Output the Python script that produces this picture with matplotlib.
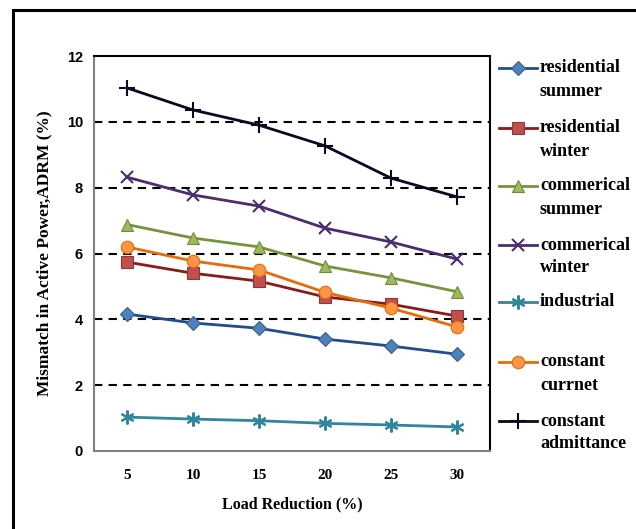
import matplotlib.pyplot as plt
from matplotlib.patches import Rectangle
from matplotlib.lines import Line2D

load_reduction = [5, 10, 15, 20, 25, 30]
x_tick_labels = ["5", "10", "15", "20", "25", "30"]

residential_summer = [4.16, 3.89, 3.73, 3.40, 3.19, 2.94]
residential_winter = [5.74, 5.40, 5.16, 4.68, 4.46, 4.10]
commerical_summer = [6.88, 6.47, 6.20, 5.62, 5.26, 4.84]
commerical_winter = [8.32, 7.78, 7.44, 6.77, 6.35, 5.83]
industrial = [1.03, 0.97, 0.92, 0.84, 0.79, 0.73]
constant_current = [6.20, 5.77, 5.50, 4.82, 4.34, 3.77]
constant_admittance = [11.03, 10.36, 9.90, 9.27, 8.29, 7.72]

plt.rcParams['font.family'] = ['Liberation Serif', 'DejaVu Serif']

W, H = 636, 529
fig = plt.figure(figsize=(W / 100, H / 100), dpi=100)
ax = fig.add_axes([94 / W, 78 / H, 396 / W, 395 / H])

# outer frame of the picture
fig.patches.append(Rectangle((13 / W, -0.1), 1.2, 1.1 - 10 / H,
                             transform=fig.transFigure, fill=False,
                             edgecolor='black', linewidth=2.2))

series = [
    ("residential", "summer", residential_summer, 'D', '#1F4E8C', '#4F81BD', '#385D8A', 7),
    ("residential", "winter", residential_winter, 's', '#8B1A1A', '#C0504D', '#8C3836', 8),
    ("commerical", "summer", commerical_summer, '^', '#77933C', '#9BBB59', '#71893F', 9),
    ("commerical", "winter", commerical_winter, 'x', '#4B2E6B', '#4B2E6B', '#4B2E6B', 9),
    ("industrial", "", industrial, (6, 2, 0), '#31859C', '#31859C', '#31859C', 10),
    ("constant", "currnet", constant_current, 'o', '#E46C0A', '#F79646', '#E46C0A', 9),
    ("constant", "admittance", constant_admittance, '+', '#0A0A1E', '#0A0A1E', '#0A0A1E', 11),
]
legend_rows = [68, 128, 186, 245, 302, 362, 421]

for (l1, l2, vals, mk, lc, fc, ec, ms), ry in zip(series, legend_rows):
    mew = 1.5 if mk in ('x', '+') or isinstance(mk, tuple) else 0.8
    ax.plot(load_reduction, vals, color=lc, linewidth=2, marker=mk,
            markersize=ms, markerfacecolor=fc, markeredgecolor=ec,
            markeredgewidth=mew)
    # legend entry drawn by hand so the marker sits on the first text line
    yf = 1 - ry / H
    fig.add_artist(Line2D([499 / W, 537 / W], [yf, yf], transform=fig.transFigure,
                          color=lc, linewidth=2))
    fig.add_artist(Line2D([518 / W], [yf], transform=fig.transFigure,
                          marker=mk, markersize=ms, markerfacecolor=fc,
                          markeredgecolor=ec, markeredgewidth=mew, linestyle='none'))
    fig.text(540 / W, yf, l1, fontweight='bold', fontsize=13, va='center', ha='left')
    if l2:
        fig.text(540 / W, 1 - (ry + 23) / H, l2, fontweight='bold', fontsize=13,
                 va='center', ha='left')

ax.set_xlim(2.5, 32.5)
ax.set_ylim(0, 12)
ax.set_yticks([0, 2, 4, 6, 8, 10, 12])
ax.set_yticklabels(["0", "2", "4", "6", "8", "10", "12"],
                   fontfamily='Liberation Sans', fontweight='bold', fontsize=10.5)
ax.set_xticks(load_reduction)
ax.set_xticklabels(x_tick_labels, fontweight='bold', fontsize=11)
ax.tick_params(axis='y', length=0, pad=8)
ax.tick_params(axis='x', length=0, pad=13)

for yv in [2, 4, 6, 8, 10]:
    ax.axhline(yv, color='black', linestyle=(0, (4, 3)), linewidth=1.5, zorder=0)

ax.spines['left'].set_color('#808080')
ax.spines['bottom'].set_color('#808080')
ax.spines['top'].set_color('black')
ax.spines['right'].set_color('black')
for s in ax.spines.values():
    s.set_linewidth(1.5)

ax.set_ylabel("Mismatch in Active Power,ADRM (%)", fontweight='bold', fontsize=12.5, labelpad=10)
ax.set_xlabel("Load Reduction (%)", fontweight='bold', fontsize=11.5, labelpad=10)

fig.savefig("out.png", dpi=100)
